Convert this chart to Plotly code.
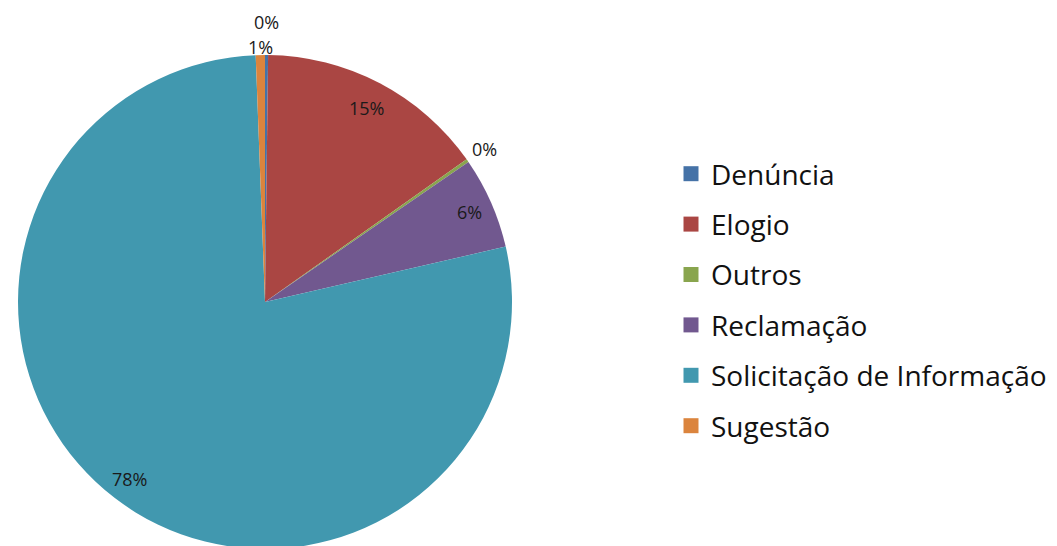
import math
import plotly.graph_objects as go

categories = ["Denúncia", "Elogio", "Outros", "Reclamação", "Solicitação de Informação", "Sugestão"]
values = [1, 75, 1, 30, 390, 3]
colors = ["#4572A7", "#AA4643", "#89A54E", "#71588F", "#4198AF", "#DB843D"]

# radial placement of each percentage label (fraction of the pie radius)
label_radius = [1.1356, 0.885, 1.085, 0.905, 0.905, 1.034]

W, H = 1057, 546
M_T, M_B = 47, 5
plot_h = H - M_T - M_B
R = plot_h / 2.0
CX, CY = 257.0, M_T + R  # pixel centre of the pie (figure coordinates)

fig = go.Figure()
fig.add_trace(go.Pie(
    labels=categories,
    values=values,
    sort=False,
    direction="clockwise",
    rotation=0,
    marker=dict(colors=colors, line=dict(width=0)),
    textinfo="none",
    textposition="none",
    domain=dict(x=[(CX - R) / W, (CX + R) / W], y=[0, 1]),
    showlegend=False,
    hoverinfo="label+percent",
))

# percentage labels placed at each slice's mid angle
total = sum(values)
cum = 0.0
for v, f in zip(values, label_radius):
    mid = (cum + v / 2.0) / total * 2 * math.pi
    cum += v
    px = CX + f * R * math.sin(mid)
    py = CY - f * R * math.cos(mid)
    fig.add_annotation(
        x=px / W, y=(H - M_B - py) / plot_h, xref="paper", yref="paper",
        text=f"{round(100 * v / total):.0f}%", showarrow=False,
        xanchor="center", yanchor="middle",
        font=dict(family="Open Sans", size=18, color="#1a1a1a"),
    )

for name, col in zip(categories, colors):
    fig.add_trace(go.Scatter(
        x=[None], y=[None], mode="markers", name=name, legendgroup=name,
        marker=dict(symbol="square", size=15, color=col),
    ))

fig.update_layout(
    width=W, height=H,
    margin=dict(l=0, r=0, t=M_T, b=M_B),
    paper_bgcolor="white", plot_bgcolor="white",
    xaxis=dict(visible=False), yaxis=dict(visible=False),
    legend=dict(
        x=663 / W, xanchor="left", y=(H - M_B - 292) / plot_h, yanchor="middle",
        font=dict(family="Open Sans", size=28, color="#111111"),
        tracegroupgap=11, bgcolor="rgba(0,0,0,0)",
    ),
)
fig.write_html("out.html")
